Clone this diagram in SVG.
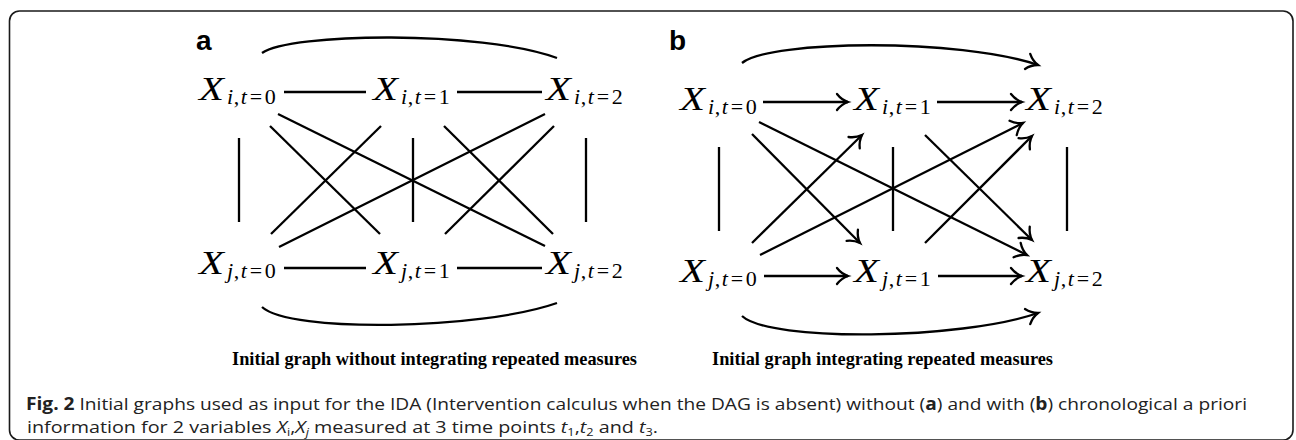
<svg xmlns="http://www.w3.org/2000/svg" width="1296" height="440" viewBox="0 0 1296 440">
<style>
.frame{fill:none;stroke:#1a1a1a;stroke-width:1.6}
.e{fill:none;stroke:#000;stroke-width:2.3;stroke-linecap:butt}
.a{marker-end:url(#ah)}
.X{font-family:"Liberation Serif",serif;font-style:italic;font-size:33px;fill:#000}
.s{font-family:"Liberation Serif",serif;font-size:22px;fill:#000}
.it{font-style:italic}
.pl{font-family:"Liberation Sans",Arial,sans-serif;font-weight:bold;font-size:28px;fill:#000}
.cap{font-family:"Liberation Serif",serif;font-weight:bold;font-size:19px;fill:#000}
.fig{font-family:"Open Sans","Noto Sans",sans-serif;font-size:17px;fill:#222}
</style>
<defs>
<marker id="ah" markerUnits="userSpaceOnUse" viewBox="-15 -10 20 20" refX="0" refY="0" markerWidth="20" markerHeight="20" orient="auto" overflow="visible">
<path d="M-11,-8 C-7.5,-3.5 -3,-1 0,0 C-3,1 -7.5,3.5 -11,8" fill="none" stroke="#000" stroke-width="2.3" stroke-linecap="round"/>
</marker>
</defs>
<rect class="frame" x="9.5" y="11" width="1283.5" height="429" rx="10"/>

<!-- Panel a -->
<text class="pl" x="196" y="50">a</text>
<g id="a-Xi0"><text class="X" x="199" y="100" textLength="25" lengthAdjust="spacingAndGlyphs">X</text><text class="s" x="227" y="104"><tspan class="it">i</tspan><tspan dx="0.5">,</tspan><tspan class="it" dx="1.5">t</tspan><tspan dx="3">=</tspan><tspan dx="2.5">0</tspan></text></g>
<g id="a-Xi1"><text class="X" x="373" y="100" textLength="25" lengthAdjust="spacingAndGlyphs">X</text><text class="s" x="401" y="104"><tspan class="it">i</tspan><tspan dx="0.5">,</tspan><tspan class="it" dx="1.5">t</tspan><tspan dx="3">=</tspan><tspan dx="2.5">1</tspan></text></g>
<g id="a-Xi2"><text class="X" x="546" y="100" textLength="25" lengthAdjust="spacingAndGlyphs">X</text><text class="s" x="574" y="104"><tspan class="it">i</tspan><tspan dx="0.5">,</tspan><tspan class="it" dx="1.5">t</tspan><tspan dx="3">=</tspan><tspan dx="2.5">2</tspan></text></g>
<g id="a-Xj0"><text class="X" x="199" y="274" textLength="25" lengthAdjust="spacingAndGlyphs">X</text><text class="s" x="227" y="278"><tspan class="it">j</tspan><tspan dx="0.5">,</tspan><tspan class="it" dx="1.5">t</tspan><tspan dx="3">=</tspan><tspan dx="2.5">0</tspan></text></g>
<g id="a-Xj1"><text class="X" x="373" y="274" textLength="25" lengthAdjust="spacingAndGlyphs">X</text><text class="s" x="401" y="278"><tspan class="it">j</tspan><tspan dx="0.5">,</tspan><tspan class="it" dx="1.5">t</tspan><tspan dx="3">=</tspan><tspan dx="2.5">1</tspan></text></g>
<g id="a-Xj2"><text class="X" x="546" y="274" textLength="25" lengthAdjust="spacingAndGlyphs">X</text><text class="s" x="574" y="278"><tspan class="it">j</tspan><tspan dx="0.5">,</tspan><tspan class="it" dx="1.5">t</tspan><tspan dx="3">=</tspan><tspan dx="2.5">2</tspan></text></g>
<g id="a-edges">
<path class="e" d="M262,53 C290,33 480,30 557,58"/>
<path class="e" d="M262,307 C290,333 480,330 557,303"/>
<line class="e" x1="284" y1="92" x2="366" y2="92"/>
<line class="e" x1="457" y1="92" x2="542" y2="92"/>
<line class="e" x1="284" y1="268" x2="366" y2="268"/>
<line class="e" x1="457" y1="268" x2="542" y2="268"/>
<line class="e" x1="239" y1="138" x2="239" y2="222"/>
<line class="e" x1="413" y1="138" x2="413" y2="222"/>
<line class="e" x1="586" y1="138" x2="586" y2="222"/>
<line class="e" x1="278" y1="114" x2="545" y2="246"/>
<line class="e" x1="270" y1="126" x2="380" y2="234"/>
<line class="e" x1="381" y1="126" x2="271" y2="234"/>
<line class="e" x1="545" y1="114" x2="279" y2="247"/>
<line class="e" x1="444" y1="126" x2="553" y2="234"/>
<line class="e" x1="554" y1="126" x2="445" y2="234"/>
</g>
<text class="cap" x="232" y="365" textLength="405" lengthAdjust="spacingAndGlyphs">Initial graph without integrating repeated measures</text>

<!-- Panel b -->
<text class="pl" x="669" y="50">b</text>
<g id="b-Xi0"><text class="X" x="680" y="110" textLength="25" lengthAdjust="spacingAndGlyphs">X</text><text class="s" x="708" y="114"><tspan class="it">i</tspan><tspan dx="0.5">,</tspan><tspan class="it" dx="1.5">t</tspan><tspan dx="3">=</tspan><tspan dx="2.5">0</tspan></text></g>
<g id="b-Xi1"><text class="X" x="854" y="110" textLength="25" lengthAdjust="spacingAndGlyphs">X</text><text class="s" x="882" y="114"><tspan class="it">i</tspan><tspan dx="0.5">,</tspan><tspan class="it" dx="1.5">t</tspan><tspan dx="3">=</tspan><tspan dx="2.5">1</tspan></text></g>
<g id="b-Xi2"><text class="X" x="1026" y="110" textLength="25" lengthAdjust="spacingAndGlyphs">X</text><text class="s" x="1054" y="114"><tspan class="it">i</tspan><tspan dx="0.5">,</tspan><tspan class="it" dx="1.5">t</tspan><tspan dx="3">=</tspan><tspan dx="2.5">2</tspan></text></g>
<g id="b-Xj0"><text class="X" x="680" y="282" textLength="25" lengthAdjust="spacingAndGlyphs">X</text><text class="s" x="708" y="286"><tspan class="it">j</tspan><tspan dx="0.5">,</tspan><tspan class="it" dx="1.5">t</tspan><tspan dx="3">=</tspan><tspan dx="2.5">0</tspan></text></g>
<g id="b-Xj1"><text class="X" x="854" y="282" textLength="25" lengthAdjust="spacingAndGlyphs">X</text><text class="s" x="882" y="286"><tspan class="it">j</tspan><tspan dx="0.5">,</tspan><tspan class="it" dx="1.5">t</tspan><tspan dx="3">=</tspan><tspan dx="2.5">1</tspan></text></g>
<g id="b-Xj2"><text class="X" x="1026" y="282" textLength="25" lengthAdjust="spacingAndGlyphs">X</text><text class="s" x="1054" y="286"><tspan class="it">j</tspan><tspan dx="0.5">,</tspan><tspan class="it" dx="1.5">t</tspan><tspan dx="3">=</tspan><tspan dx="2.5">2</tspan></text></g>
<g id="b-edges">
<path class="e a" d="M742,63 C770,40 960,38 1038,65"/>
<path class="e a" d="M742,316 C770,342 960,340 1038,313"/>
<line class="e a" x1="763" y1="102" x2="848" y2="102"/>
<line class="e a" x1="937" y1="102" x2="1022" y2="102"/>
<line class="e a" x1="764" y1="276" x2="848" y2="276"/>
<line class="e a" x1="938" y1="276" x2="1022" y2="276"/>
<line class="e" x1="719" y1="147" x2="719" y2="231"/>
<line class="e" x1="893" y1="147" x2="893" y2="231"/>
<line class="e" x1="1067" y1="147" x2="1067" y2="231"/>
<line class="e a" x1="759" y1="122" x2="1027" y2="255"/>
<line class="e a" x1="752" y1="134" x2="860" y2="243"/>
<line class="e a" x1="752" y1="243" x2="862" y2="135"/>
<line class="e a" x1="760" y1="255" x2="1023" y2="123"/>
<line class="e a" x1="925" y1="135" x2="1032" y2="240"/>
<line class="e a" x1="925" y1="243" x2="1032" y2="136"/>
</g>
<text class="cap" x="712" y="365" textLength="341" lengthAdjust="spacingAndGlyphs">Initial graph integrating repeated measures</text>

<!-- Figure caption -->
<g id="caption">
<text class="fig" x="26" y="410" textLength="1221" lengthAdjust="spacingAndGlyphs"><tspan font-weight="bold">Fig. 2</tspan> Initial graphs used as input for the IDA (Intervention calculus when the DAG is absent) without (<tspan font-weight="bold">a</tspan>) and with (<tspan font-weight="bold">b</tspan>) chronological a priori</text>
<text class="fig" x="27" y="433" textLength="631" lengthAdjust="spacingAndGlyphs">information for 2 variables <tspan font-style="italic">X</tspan><tspan font-size="11" dy="3">i</tspan><tspan dy="-3">,</tspan><tspan font-style="italic">X</tspan><tspan font-size="11" font-style="italic" dy="3">j</tspan><tspan dy="-3"> measured at 3 time points </tspan><tspan font-style="italic">t</tspan><tspan font-size="11" dy="3">1</tspan><tspan dy="-3">,</tspan><tspan font-style="italic">t</tspan><tspan font-size="11" dy="3">2</tspan><tspan dy="-3"> and </tspan><tspan font-style="italic">t</tspan><tspan font-size="11" dy="3">3</tspan><tspan dy="-3">.</tspan></text>
</g>
</svg>
